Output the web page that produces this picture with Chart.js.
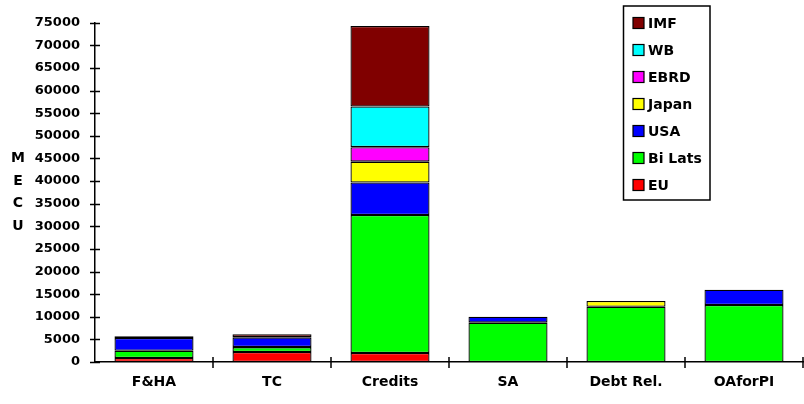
<!DOCTYPE html>
<html>
<head>
<meta charset="utf-8">
<script src="https://cdn.jsdelivr.net/npm/chart.js@4/dist/chart.umd.min.js"></script>
<style>
  html, body { margin: 0; padding: 0; background: #fff; }
  #wrap { width: 804px; height: 404px; }
</style>
</head>
<body>
<div id="wrap"><canvas id="fundsChart"></canvas></div>
<script>
// categories and series (MECU), bottom of stack first
const categories = ["F&HA", "TC", "Credits", "SA", "Debt Rel.", "OAforPI"];
const seriesNames = ["EU", "Bi Lats", "USA", "Japan", "EBRD", "WB", "IMF"];
const seriesColors = ["#ff0000", "#00ff00", "#0000ff", "#ffff00", "#ff00ff", "#00ffff", "#800000"];

const euValues     = [900, 2200, 2000, null, null, null];
const biLatsValues = [1600, 1100, 30500, 8700, 12200, 12600];
const usaValues    = [2800, 2150, 7200, 1300, null, 3400];
const japanValues  = [null, null, 4600, null, 1300, null];
const ebrdValues   = [null, null, 3200, null, null, null];
const wbValues     = [null, null, 9000, null, null, null];
const imfValues    = [400, 700, 17800, null, null, null];

const yTicks = [0, 5000, 10000, 15000, 20000, 25000, 30000, 35000, 40000, 45000, 50000, 55000, 60000, 65000, 70000, 75000];
const axisTitle = ["M", "E", "C", "U"];

const allValues = [euValues, biLatsValues, usaValues, japanValues, ebrdValues, wbValues, imfValues];

const datasets = seriesNames.map((name, i) => ({
  label: name,
  data: allValues[i],
  backgroundColor: seriesColors[i],
  borderColor: "#000",
  borderWidth: 1.3,
  borderSkipped: false,
  categoryPercentage: 1,
  barPercentage: 0.67
}));

// cross tick marks, the MECU letters and the boxed legend
const extrasPlugin = {
  id: "extras",
  afterDraw(chart) {
    const ctx = chart.ctx;
    const x = chart.scales.x;
    const y = chart.scales.y;
    ctx.save();
    ctx.strokeStyle = "#000";
    ctx.lineWidth = 1.5;

    yTicks.forEach((v) => {
      const py = Math.round(y.getPixelForValue(v)) + 0.5;
      ctx.beginPath();
      ctx.moveTo(x.left - 5, py);
      ctx.lineTo(x.left + 5, py);
      ctx.stroke();
    });

    const step = (x.right - x.left) / categories.length;
    for (let i = 1; i <= categories.length; i++) {
      const px = Math.round(x.left + step * i);
      ctx.beginPath();
      ctx.moveTo(px, y.bottom - 5);
      ctx.lineTo(px, y.bottom + 6);
      ctx.stroke();
    }

    // vertical axis title, one letter per line
    ctx.fillStyle = "#000";
    ctx.font = "bold 14px 'DejaVu Sans'";
    ctx.textAlign = "center";
    ctx.textBaseline = "middle";
    axisTitle.forEach((ch, i) => {
      ctx.fillText(ch, 18, y.getPixelForValue(45000 - i * 5000));
    });

    // legend box, top of stack first
    ctx.lineWidth = 1.5;
    ctx.strokeRect(623.5, 6, 86.5, 194);
    ctx.textAlign = "left";
    ctx.font = "bold 14px 'DejaVu Sans'";
    for (let k = 0; k < seriesNames.length; k++) {
      const i = seriesNames.length - 1 - k;
      const cy = 23 + 27 * k;
      ctx.fillStyle = seriesColors[i];
      ctx.fillRect(633, cy - 5.5, 11, 11);
      ctx.lineWidth = 1.2;
      ctx.strokeRect(633, cy - 5.5, 11, 11);
      ctx.fillStyle = "#000";
      ctx.fillText(seriesNames[i], 648, cy + 1);
    }
    ctx.restore();
  }
};

const ctx = document.getElementById("fundsChart").getContext("2d");
const fundsChart = new Chart(ctx, {
  type: "bar",
  data: { labels: categories, datasets: datasets },
  options: {
    responsive: true,
    maintainAspectRatio: false,
    animation: false,
    layout: { padding: { top: 19, right: 1, left: 0, bottom: 0 } },
    plugins: {
      legend: { display: false },
      tooltip: { enabled: false }
    },
    scales: {
      x: {
        stacked: true,
        grid: { display: false, drawTicks: false },
        border: { display: true, color: "#000", width: 1.5 },
        ticks: {
          color: "#000",
          padding: 12,
          maxRotation: 0,
          font: { family: "DejaVu Sans", size: 14, weight: "bold" }
        },
        afterFit(scale) { scale.height = 42; }
      },
      y: {
        stacked: true,
        min: 0,
        max: 75000,
        grid: { display: false, drawTicks: false },
        border: { display: true, color: "#000", width: 1.5 },
        ticks: {
          stepSize: 5000,
          color: "#000",
          padding: 15,
          font: { family: "DejaVu Sans", size: 13, weight: "bold" },
          callback: (value) => String(value)
        },
        afterFit(scale) { scale.width = 95; }
      }
    }
  },
  plugins: [extrasPlugin]
});
</script>
</body>
</html>
